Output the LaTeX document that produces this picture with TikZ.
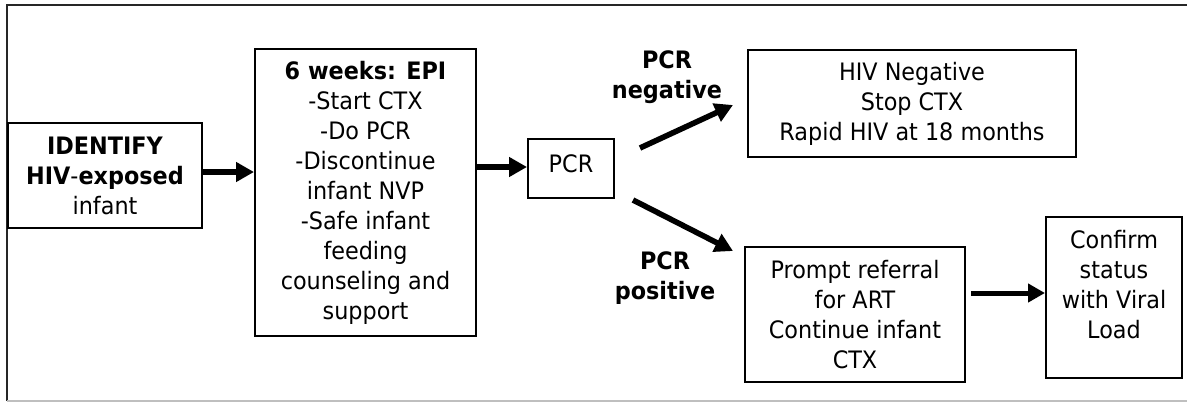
\documentclass[tikz,border=0pt]{standalone}
\usepackage{fontspec}
\setmainfont{DejaVu Sans}[FakeStretch=0.93]
\usetikzlibrary{arrows.meta}
\begin{document}
\begin{tikzpicture}[x=0.5pt,y=-0.5pt,
  every node/.style={font=\fontsize{12}{15}\selectfont, align=center, inner sep=0pt},
  box/.style={draw, line width=1pt},
  arr/.style={line width=2.8pt, -{Triangle[length=9pt,width=9.5pt]}},
  arrthin/.style={line width=2.5pt, -{Triangle[length=8.5pt,width=9pt]}}]
\useasboundingbox (0,0) rectangle (1187,402);
\draw[line width=1pt, black!85] (1187,5) -- (7,5) -- (7,401);
\draw[line width=1pt, black!25] (7,401) -- (1187,401);

\node[box, minimum width=97pt, minimum height=52.5pt] (id) at (105,175.5)
  {\textbf{IDENTIFY}\\\textbf{HIV}-\textbf{exposed}\\infant};
\node[box, minimum width=110.5pt, minimum height=143.5pt] (epi) at (365.5,192.5)
  {\textbf{6 weeks: EPI}\\-Start CTX\\-Do PCR\\-Discontinue\\infant NVP\\-Safe infant\\feeding\\counseling and\\support};
\node[box, minimum width=43pt, minimum height=29.5pt] (pcr) at (571,168.5) {};
\node (pcrtext) at (571,164) {PCR};
\node[box, minimum width=164pt, minimum height=53.5pt] (neg) at (912,103.5)
  {HIV Negative\\Stop CTX\\Rapid HIV at 18 months};
\node[box, minimum width=110pt, minimum height=67.5pt] (pos) at (855,314.5)
  {Prompt referral\\for ART\\Continue infant\\CTX};
\node[box, minimum width=68pt, minimum height=80.5pt] (conf) at (1114,297.5) {};
\node (conftext) at (1114,285) {Confirm\\status\\with Viral\\Load};

\node (lneg) at (667,77) {\textbf{PCR}\\\textbf{negative}};
\node (lpos) at (665,278.5) {\textbf{PCR}\\\textbf{positive}};

\coordinate (n1) at (640,148);
\coordinate (n2) at (733,105);
\coordinate (p1) at (633,200);
\coordinate (p2) at (733,251);
\coordinate (c1) at (971,293);

\draw[arr] (id.east |- 0,172) -- (epi.west |- 0,172);
\draw[arr] (epi.east |- 0,167) -- (pcr.west |- 0,167);
\draw[arr] (n1) -- (n2);
\draw[arr] (p1) -- (p2);
\draw[arrthin] (c1) -- (conf.west |- c1);
\end{tikzpicture}
\end{document}
